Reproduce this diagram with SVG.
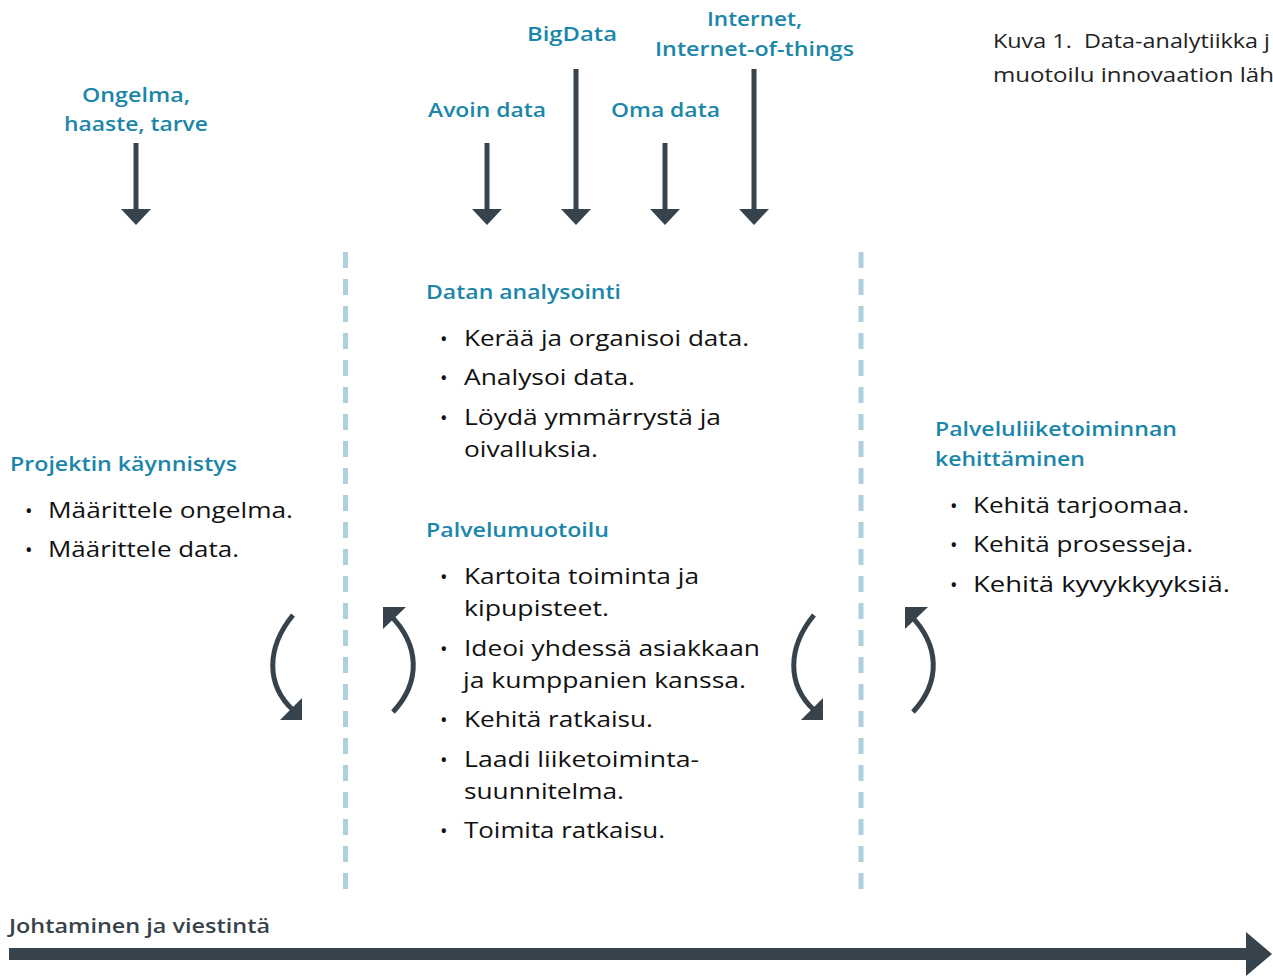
<svg xmlns="http://www.w3.org/2000/svg" width="1273" height="976" viewBox="0 0 1273 976">
<style>
.h{font-family:"Open Sans","Noto Sans",sans-serif;font-weight:600;font-size:20px;fill:#1a86a9}
.hc{text-anchor:middle}
.b{font-family:"Open Sans","Noto Sans",sans-serif;font-size:22px;fill:#111}
.dot{font-family:"Open Sans",sans-serif;font-size:20px;fill:#111}
.cap{font-family:"Open Sans","Noto Sans",sans-serif;font-size:20px;fill:#222}
.dash{stroke:#aed0dc;stroke-width:5;stroke-dasharray:16 11;fill:none}
.shaft{stroke:#36434c;stroke-width:5;fill:none}
.head{fill:#36434c}
.arc{stroke:#36434c;stroke-width:5;fill:none}
</style>
<rect width="1273" height="976" fill="#fff"/>

<g id="caption">
<text class="cap" x="993" y="48" textLength="277" lengthAdjust="spacingAndGlyphs">Kuva 1.&#160; Data-analytiikka j</text>
<text class="cap" x="993" y="82" textLength="281" lengthAdjust="spacingAndGlyphs">muotoilu innovaation läh</text>
</g>

<g id="dividers">
<line class="dash" x1="345.5" y1="252" x2="345.5" y2="892"/>
<line class="dash" x1="861" y1="252" x2="861" y2="892"/>
</g>

<g id="input-ongelma">
<text class="h hc" x="136" y="102" textLength="108" lengthAdjust="spacingAndGlyphs">Ongelma,</text>
<text class="h hc" x="136" y="131" textLength="144" lengthAdjust="spacingAndGlyphs">haaste, tarve</text>
</g>
<g id="input-avoin">
<text class="h hc" x="487" y="117" textLength="118" lengthAdjust="spacingAndGlyphs">Avoin data</text>
</g>
<g id="input-bigdata">
<text class="h hc" x="572" y="41" textLength="90" lengthAdjust="spacingAndGlyphs">BigData</text>
</g>
<g id="input-oma">
<text class="h hc" x="665.5" y="117" textLength="109" lengthAdjust="spacingAndGlyphs">Oma data</text>
</g>
<g id="input-internet">
<text class="h hc" x="754.5" y="26" textLength="95" lengthAdjust="spacingAndGlyphs">Internet,</text>
<text class="h hc" x="754.5" y="56" textLength="199" lengthAdjust="spacingAndGlyphs">Internet-of-things</text>
</g>

<g id="connectors">
<line class="shaft" x1="136" y1="143" x2="136" y2="212"/>
<polygon class="head" points="121,209 151,209 136,225"/>
<line class="shaft" x1="487" y1="143" x2="487" y2="212"/>
<polygon class="head" points="472,209 502,209 487,225"/>
<line class="shaft" x1="576" y1="69" x2="576" y2="212"/>
<polygon class="head" points="561,209 591,209 576,225"/>
<line class="shaft" x1="665" y1="143" x2="665" y2="212"/>
<polygon class="head" points="650,209 680,209 665,225"/>
<line class="shaft" x1="754" y1="69" x2="754" y2="212"/>
<polygon class="head" points="739,209 769,209 754,225"/>

<path class="arc" d="M293,615 C266,648 266,685 293,710"/>
<polygon class="head" points="280,720 302,720 302,698"/>
<path class="arc" d="M393,712 C421,682 420,645 390,615"/>
<polygon class="head" points="383,607 406,607 383,629"/>

<path class="arc" d="M814,615 C787,648 787,685 814,710"/>
<polygon class="head" points="801,720 823,720 823,698"/>
<path class="arc" d="M913,712 C941,682 940,645 910,615"/>
<polygon class="head" points="905,607 928,607 905,629"/>

<rect x="9" y="948" width="1240" height="12" fill="#36434c"/>
<polygon class="head" points="1246,932 1272,954 1246,976"/>
</g>

<g id="projektin-kaynnistys">
<text class="h" x="10" y="471" textLength="227" lengthAdjust="spacingAndGlyphs">Projektin käynnistys</text>
<text class="dot" x="25" y="518">•</text><text class="b" x="48" y="518" textLength="245" lengthAdjust="spacingAndGlyphs">Määrittele ongelma.</text>
<text class="dot" x="25" y="557">•</text><text class="b" x="48" y="557" textLength="191" lengthAdjust="spacingAndGlyphs">Määrittele data.</text>
</g>

<g id="datan-analysointi">
<text class="h" x="426" y="299" textLength="195" lengthAdjust="spacingAndGlyphs">Datan analysointi</text>
<text class="dot" x="440" y="346">•</text><text class="b" x="464" y="346" textLength="285" lengthAdjust="spacingAndGlyphs">Kerää ja organisoi data.</text>
<text class="dot" x="440" y="385">•</text><text class="b" x="464" y="385" textLength="171" lengthAdjust="spacingAndGlyphs">Analysoi data.</text>
<text class="dot" x="440" y="425">•</text><text class="b" x="464" y="425" textLength="257" lengthAdjust="spacingAndGlyphs">Löydä ymmärrystä ja</text>
<text class="b" x="464" y="457" textLength="134" lengthAdjust="spacingAndGlyphs">oivalluksia.</text>
</g>

<g id="palvelumuotoilu">
<text class="h" x="426" y="537" textLength="183" lengthAdjust="spacingAndGlyphs">Palvelumuotoilu</text>
<text class="dot" x="440" y="584">•</text><text class="b" x="464" y="584" textLength="235" lengthAdjust="spacingAndGlyphs">Kartoita toiminta ja</text>
<text class="b" x="464" y="616" textLength="145" lengthAdjust="spacingAndGlyphs">kipupisteet.</text>
<text class="dot" x="440" y="656">•</text><text class="b" x="464" y="656" textLength="296" lengthAdjust="spacingAndGlyphs">Ideoi yhdessä asiakkaan</text>
<text class="b" x="463" y="688" textLength="283" lengthAdjust="spacingAndGlyphs">ja kumppanien kanssa.</text>
<text class="dot" x="440" y="727">•</text><text class="b" x="464" y="727" textLength="189" lengthAdjust="spacingAndGlyphs">Kehitä ratkaisu.</text>
<text class="dot" x="440" y="767">•</text><text class="b" x="464" y="767" textLength="235" lengthAdjust="spacingAndGlyphs">Laadi liiketoiminta-</text>
<text class="b" x="464" y="799" textLength="160" lengthAdjust="spacingAndGlyphs">suunnitelma.</text>
<text class="dot" x="440" y="838">•</text><text class="b" x="464" y="838" textLength="201" lengthAdjust="spacingAndGlyphs">Toimita ratkaisu.</text>
</g>

<g id="palveluliiketoiminnan-kehittaminen">
<text class="h" x="935" y="436" textLength="242" lengthAdjust="spacingAndGlyphs">Palveluliiketoiminnan</text>
<text class="h" x="935" y="466" textLength="150" lengthAdjust="spacingAndGlyphs">kehittäminen</text>
<text class="dot" x="950" y="513">•</text><text class="b" x="973" y="513" textLength="216" lengthAdjust="spacingAndGlyphs">Kehitä tarjoomaa.</text>
<text class="dot" x="950" y="552">•</text><text class="b" x="973" y="552" textLength="220" lengthAdjust="spacingAndGlyphs">Kehitä prosesseja.</text>
<text class="dot" x="950" y="592">•</text><text class="b" x="973" y="592" textLength="257" lengthAdjust="spacingAndGlyphs">Kehitä kyvykkyyksiä.</text>
</g>

<g id="johtaminen">
<text x="9" y="933" textLength="261" lengthAdjust="spacingAndGlyphs" style="font-family:'Open Sans','Noto Sans',sans-serif;font-weight:600;font-size:20px;fill:#36434c">Johtaminen ja viestintä</text>
</g>
</svg>
